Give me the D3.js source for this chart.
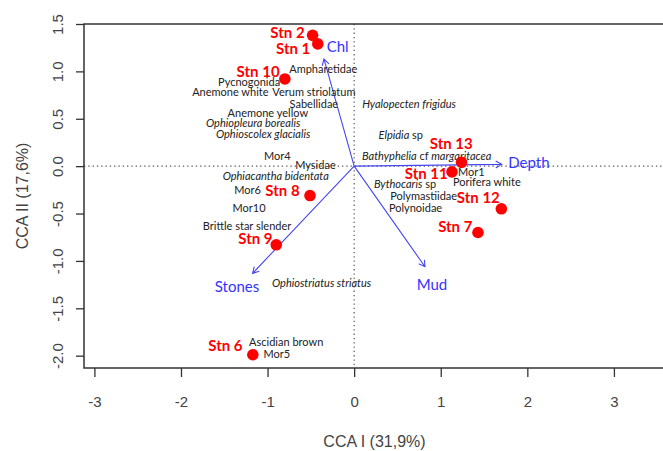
<!DOCTYPE html>
<html>
<head>
<meta charset="utf-8">
<script src="https://cdn.jsdelivr.net/npm/d3@7"></script>
<style>
  body { margin: 0; background: #fff; }
  svg { display: block; }
  .tick text { font-family: "Liberation Sans", Arial, sans-serif; font-size: 15px; fill: #444; }
  .tick line { stroke: #333; stroke-width: 1.3; }
  .axis-title { font-family: "Liberation Sans", Arial, sans-serif; font-size: 16px; fill: #444; }
  .species { font-family: Lato, sans-serif; font-size: 11px; fill: #222; }
  .stn { font-family: Lato, sans-serif; font-size: 15px; font-weight: bold; fill: #f00; }
  .env { font-family: Lato, sans-serif; font-size: 15px; fill: #3333ff; }
</style>
</head>
<body>
<svg width="663" height="451"></svg>
<script>
// stations (site scores)
const stnNames = ["Stn 1", "Stn 2", "Stn 6", "Stn 7", "Stn 8", "Stn 9", "Stn 10", "Stn 11", "Stn 12", "Stn 13"];
const stnX = [-0.42, -0.48, -1.17, 1.43, -0.51, -0.90, -0.80, 1.13, 1.70, 1.24];
const stnY = [1.29, 1.38, -1.99, -0.70, -0.31, -0.83, 0.92, -0.06, -0.45, 0.04];
// where each station label sits (right end of the text)
const stnLabelX = [-0.506, -0.572, -1.289, 1.366, -0.630, -0.942, -0.861, 1.081, 1.682, 1.370];
const stnLabelY = [1.237, 1.412, -1.900, -0.638, -0.261, -0.768, 1.000, -0.085, -0.338, 0.236];

// species scores, *...* = italic
const spNames = [
  "Ampharetidae", "Pycnogonida", "Anemone white", "Verum striolatum", "Sabellidae",
  "*Hyalopecten frigidus*", "Anemone yellow", "*Ophiopleura borealis*", "*Ophioscolex glacialis*",
  "*Elpidia* sp", "Mor4", "*Bathyphelia* cf *margaritacea*", "Mysidae", "*Ophiacantha bidentata*",
  "Mor1", "Porifera white", "*Bythocaris* sp", "Mor6", "Polymastiidae", "Polynoidae", "Mor10",
  "Brittle star slender", "*Ophiostriatus striatus*", "Ascidian brown", "Mor5"
];
const spX = [-0.357, -1.213, -1.430, -0.465, -0.465, 0.634, -0.997, -1.166, -1.051, 0.539, -0.887, 0.838, -0.447,
  -0.906, 1.353, 1.532, 0.587, -1.231, 0.803, 0.709, -1.214, -1.237, -0.376, -0.785, -0.892];
const spY = [1.025, 0.888, 0.778, 0.778, 0.659, 0.655, 0.560, 0.455, 0.341, 0.331, 0.101, 0.109, 0.014,
  -0.110, -0.068, -0.169, -0.190, -0.258, -0.314, -0.438, -0.444, -0.628, -1.237, -1.860, -1.987];

// environmental vectors (biplot arrows)
const envNames = ["Chl", "Depth", "Stones", "Mud"];
const envX = [-0.349, 1.705, -1.173, 0.818];
const envY = [1.131, 0.019, -1.131, -1.061];
const envLabelX = [-0.190, 2.018, -1.353, 0.899];
const envLabelY = [1.264, 0.032, -1.273, -1.255];

// axis ticks
const xTicks = [-3, -2, -1, 0, 1, 2, 3];
const yTicks = [-2.0, -1.5, -1.0, -0.5, 0.0, 0.5, 1.0, 1.5];

const svg = d3.select("svg");
const width = +svg.attr("width");
const height = +svg.attr("height");

const margin = { top: 24, right: -2, bottom: 83, left: 84 };
const innerWidth = width - margin.left - margin.right;
const innerHeight = height - margin.top - margin.bottom;

const xScale = d3.scaleLinear().domain([-3.12, 3.59]).range([0, innerWidth]);
const yScale = d3.scaleLinear().domain([-2.13, 1.5]).range([innerHeight, 0]);

const g = svg.append("g").attr("transform", `translate(${margin.left},${margin.top})`);

// dotted zero lines
g.append("line")
  .attr("x1", 0).attr("x2", innerWidth)
  .attr("y1", yScale(0)).attr("y2", yScale(0))
  .attr("stroke", "#555").attr("stroke-width", 1.2).attr("stroke-dasharray", "1.3,3");
g.append("line")
  .attr("x1", xScale(0)).attr("x2", xScale(0))
  .attr("y1", 0).attr("y2", innerHeight)
  .attr("stroke", "#555").attr("stroke-width", 1.2).attr("stroke-dasharray", "1.3,3");

// axes
const xAxisG = g.append("g")
  .attr("transform", `translate(0,${innerHeight})`)
  .call(d3.axisBottom(xScale).tickValues(xTicks).tickSize(9).tickPadding(19).tickFormat(d3.format("d")));
xAxisG.select(".domain").remove();
xAxisG.selectAll(".tick text").text(d => d < 0 ? "-" + Math.abs(d) : d);

const yAxisG = g.append("g")
  .call(d3.axisLeft(yScale).tickValues(yTicks).tickSize(8).tickFormat(d3.format(".1f")));
yAxisG.select(".domain").remove();
yAxisG.selectAll(".tick text")
  .text(d => d3.format(".1f")(d).replace("−", "-"))
  .attr("transform", "rotate(-90)")
  .attr("text-anchor", "middle")
  .attr("x", 0)
  .attr("y", -26)
  .attr("dy", "0.35em");

// plot box (right side falls outside the picture)
g.append("path")
  .attr("d", `M${innerWidth},0H0V${innerHeight}H${innerWidth}`)
  .attr("fill", "none")
  .attr("stroke", "#333")
  .attr("stroke-width", 1.5);

// axis titles
svg.append("text")
  .attr("class", "axis-title")
  .attr("x", margin.left + innerWidth / 2)
  .attr("y", 447)
  .attr("text-anchor", "middle")
  .text("CCA I (31,9%)");
svg.append("text")
  .attr("class", "axis-title")
  .attr("transform", `translate(28,${margin.top + innerHeight / 2}) rotate(-90)`)
  .attr("text-anchor", "middle")
  .text("CCA II (17,6%)");

// environmental arrows
const ox = xScale(0), oy = yScale(0);
const env = envNames.map((n, i) => ({ name: n, x: envX[i], y: envY[i], lx: envLabelX[i], ly: envLabelY[i] }));
const head = 7;
g.selectAll(".env-arrow")
  .data(env)
  .enter()
  .append("path")
  .attr("class", "env-arrow")
  .attr("fill", "none")
  .attr("stroke", "#4646f0")
  .attr("stroke-width", 1.1)
  .attr("d", d => {
    const tx = xScale(d.x), ty = yScale(d.y);
    const a = Math.atan2(ty - oy, tx - ox);
    const a1 = a + Math.PI - Math.PI / 6, a2 = a + Math.PI + Math.PI / 6;
    return `M${ox},${oy}L${tx},${ty}` +
      `M${tx + head * Math.cos(a1)},${ty + head * Math.sin(a1)}L${tx},${ty}` +
      `L${tx + head * Math.cos(a2)},${ty + head * Math.sin(a2)}`;
  });
g.selectAll(".env")
  .data(env)
  .enter()
  .append("text")
  .attr("class", "env")
  .attr("x", d => xScale(d.lx))
  .attr("y", d => yScale(d.ly))
  .attr("dy", "0.35em")
  .attr("text-anchor", "middle")
  .text(d => d.name);

// species labels
const sp = spNames.map((n, i) => ({ name: n, x: spX[i], y: spY[i] }));
const spText = g.selectAll(".species")
  .data(sp)
  .enter()
  .append("text")
  .attr("class", "species")
  .attr("x", d => xScale(d.x))
  .attr("y", d => yScale(d.y))
  .attr("dy", "0.35em")
  .attr("text-anchor", "middle");
spText.each(function (d) {
  const parts = d.name.split("*");
  const t = d3.select(this);
  parts.forEach((p, i) => {
    if (p === "") return;
    t.append("tspan").attr("font-style", i % 2 ? "italic" : "normal").text(p);
  });
});

// stations
const stn = stnNames.map((n, i) => ({ name: n, x: stnX[i], y: stnY[i], lx: stnLabelX[i], ly: stnLabelY[i] }));
g.selectAll(".stn-pt")
  .data(stn)
  .enter()
  .append("circle")
  .attr("class", "stn-pt")
  .attr("cx", d => xScale(d.x))
  .attr("cy", d => yScale(d.y))
  .attr("r", 5.8)
  .attr("fill", "#f00");
g.selectAll(".stn")
  .data(stn)
  .enter()
  .append("text")
  .attr("class", "stn")
  .attr("x", d => xScale(d.lx))
  .attr("y", d => yScale(d.ly))
  .attr("dy", "0.35em")
  .attr("text-anchor", "end")
  .text(d => d.name);
</script>
</body>
</html>
